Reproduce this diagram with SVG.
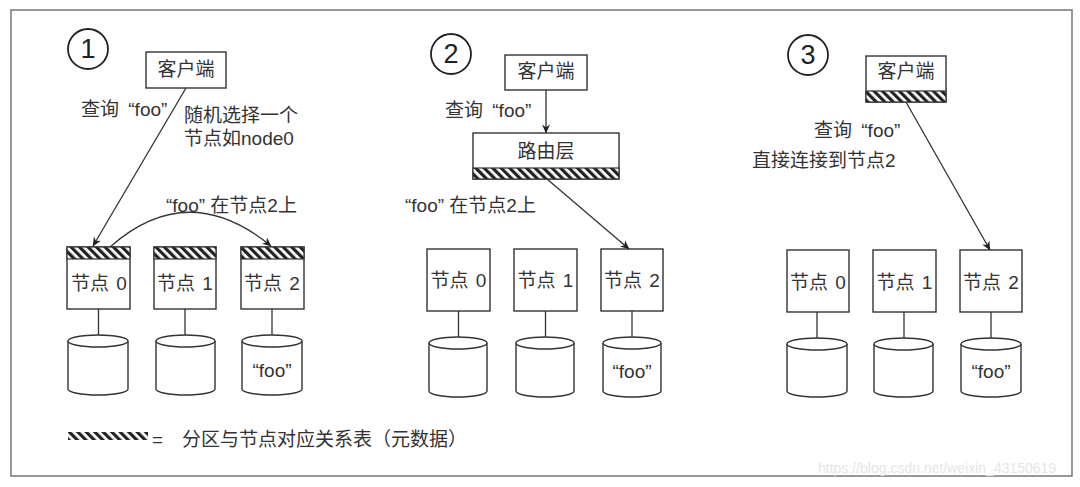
<svg xmlns="http://www.w3.org/2000/svg" width="1080" height="487" viewBox="0 0 1080 487">
<defs>
  <pattern id="hatch" patternUnits="userSpaceOnUse" width="6" height="6" patternTransform="rotate(-45)">
    <rect x="0" y="0" width="6" height="6" fill="#fff"/>
    <rect x="0" y="0" width="3.2" height="6" fill="#222"/>
  </pattern>
  <marker id="arr" viewBox="0 0 10 10" refX="9.5" refY="5" markerWidth="9" markerHeight="9" orient="auto" markerUnits="userSpaceOnUse">
    <path d="M0,0.5 L10,5 L0,9.5 L3,5 Z" fill="#222"/>
  </marker>
  <style>
    .t { font-family: "Liberation Sans", "Noto Sans CJK SC", sans-serif; fill: #333; font-size: 19px; }
    .c { text-anchor: middle; }
    .box { fill: #fff; stroke: #333; stroke-width: 1.4; }
    .hb { fill: url(#hatch); stroke: #333; stroke-width: 1.2; }
    .ln { fill: none; stroke: #333; stroke-width: 1.3; }
    .cyl { fill: #fff; stroke: #333; stroke-width: 1.4; }
    .num { font-family: "Liberation Sans", sans-serif; font-size: 27px; fill: #222; text-anchor: middle; }
    .wm { font-family: "Liberation Sans", sans-serif; font-size: 14px; fill: #e6e6e6; }
  </style>
</defs>
<rect x="0" y="0" width="1080" height="487" fill="#fff"/>
<rect x="11" y="10" width="1061" height="466" fill="none" stroke="#777" stroke-width="1.5"/>

<!-- Panel 1 -->
<g id="p1-step">
  <circle cx="88" cy="49" r="20" fill="none" stroke="#222" stroke-width="1.8"/>
  <text class="num" x="88" y="58">1</text>
</g>
<g id="p1-client">
  <rect class="box" x="146" y="52" width="80" height="36"/>
  <text class="t c" x="186" y="76" font-size="17">客户端</text>
</g>
<g id="p1-labels">
  <text class="t" x="81" y="116">查询 <tspan dx="4">“foo”</tspan></text>
  <text class="t" x="184" y="122" font-size="20">随机选择一个</text>
  <text class="t" x="184" y="145" font-size="20">节点如node0</text>
  <text class="t" x="166" y="212">“foo” 在节点2上</text>
</g>
<g id="p1-node0">
  <rect class="box" x="67" y="247" width="63" height="62"/>
  <rect class="hb" x="67" y="247" width="63" height="12"/>
  <text class="t c" x="99" y="290">节点 <tspan dx="2">0</tspan></text>
  <path class="cyl" d="M68,341 L68,389 A30,6 0 0 0 128,389 L128,341"/>
  <ellipse class="cyl" cx="98" cy="341" rx="30" ry="6"/>
</g>
<g id="p1-node1">
  <rect class="box" x="154" y="247" width="62" height="62"/>
  <rect class="hb" x="154" y="247" width="62" height="12"/>
  <text class="t c" x="185" y="290">节点 <tspan dx="2">1</tspan></text>
  <path class="cyl" d="M156,341 L156,389 A29.5,6 0 0 0 215,389 L215,341"/>
  <ellipse class="cyl" cx="185.5" cy="341" rx="29.5" ry="6"/>
</g>
<g id="p1-node2">
  <rect class="box" x="241" y="247" width="63" height="62"/>
  <rect class="hb" x="241" y="247" width="63" height="12"/>
  <text class="t c" x="272" y="290">节点 <tspan dx="2">2</tspan></text>
  <path class="cyl" d="M242,341 L242,389 A30,6 0 0 0 302,389 L302,341"/>
  <ellipse class="cyl" cx="272" cy="341" rx="30" ry="6"/>
  <text class="t c" x="272" y="377">“foo”</text>
</g>

<!-- Panel 2 -->
<g id="p2-step">
  <circle cx="451" cy="54" r="20" fill="none" stroke="#222" stroke-width="1.8"/>
  <text class="num" x="451" y="63">2</text>
</g>
<g id="p2-client">
  <rect class="box" x="505" y="55" width="82" height="35"/>
  <text class="t c" x="546" y="78" font-size="17">客户端</text>
</g>
<g id="p2-router">
  <rect class="box" x="473" y="133" width="146" height="46"/>
  <rect class="hb" x="473" y="168" width="146" height="11"/>
  <text class="t c" x="546" y="158" font-size="17">路由层</text>
</g>
<g id="p2-labels">
  <text class="t" x="445" y="117">查询 <tspan dx="4">“foo”</tspan></text>
  <text class="t" x="405" y="212">“foo” 在节点2上</text>
</g>
<g id="p2-node0">
  <rect class="box" x="427" y="249" width="63" height="62"/>
  <text class="t c" x="458.5" y="287">节点 <tspan dx="2">0</tspan></text>
  <path class="cyl" d="M429,343 L429,391 A29,6 0 0 0 487,391 L487,343"/>
  <ellipse class="cyl" cx="458" cy="343" rx="29" ry="6"/>
</g>
<g id="p2-node1">
  <rect class="box" x="514" y="249" width="63" height="62"/>
  <text class="t c" x="545.5" y="287">节点 <tspan dx="2">1</tspan></text>
  <path class="cyl" d="M516,343 L516,391 A29,6 0 0 0 574,391 L574,343"/>
  <ellipse class="cyl" cx="545" cy="343" rx="29" ry="6"/>
</g>
<g id="p2-node2">
  <rect class="box" x="601" y="249" width="62" height="62"/>
  <text class="t c" x="632" y="287">节点 <tspan dx="2">2</tspan></text>
  <path class="cyl" d="M603,343 L603,391 A29,6 0 0 0 661,391 L661,343"/>
  <ellipse class="cyl" cx="632" cy="343" rx="29" ry="6"/>
  <text class="t c" x="632" y="378">“foo”</text>
</g>

<!-- Panel 3 -->
<g id="p3-step">
  <circle cx="808" cy="55" r="20" fill="none" stroke="#222" stroke-width="1.8"/>
  <text class="num" x="808" y="64">3</text>
</g>
<g id="p3-client">
  <rect class="box" x="866" y="56" width="80" height="46"/>
  <rect class="hb" x="866" y="91" width="80" height="11"/>
  <text class="t c" x="906" y="78" font-size="17">客户端</text>
</g>
<g id="p3-labels">
  <text class="t" x="814" y="137">查询 <tspan dx="4">“foo”</tspan></text>
  <text class="t" x="752" y="167" font-size="20">直接连接到节点2</text>
</g>
<g id="p3-node0">
  <rect class="box" x="787" y="250" width="62" height="62"/>
  <text class="t c" x="818" y="289">节点 <tspan dx="2">0</tspan></text>
  <path class="cyl" d="M787,344 L787,391 A30,6 0 0 0 847,391 L847,344"/>
  <ellipse class="cyl" cx="817" cy="344" rx="30" ry="6"/>
</g>
<g id="p3-node1">
  <rect class="box" x="873" y="250" width="63" height="62"/>
  <text class="t c" x="904.5" y="289">节点 <tspan dx="2">1</tspan></text>
  <path class="cyl" d="M874,344 L874,391 A29.5,6 0 0 0 933,391 L933,344"/>
  <ellipse class="cyl" cx="903.5" cy="344" rx="29.5" ry="6"/>
</g>
<g id="p3-node2">
  <rect class="box" x="960" y="250" width="62" height="62"/>
  <text class="t c" x="991" y="289">节点 <tspan dx="2">2</tspan></text>
  <path class="cyl" d="M961,344 L961,391 A30,6 0 0 0 1021,391 L1021,344"/>
  <ellipse class="cyl" cx="991" cy="344" rx="30" ry="6"/>
  <text class="t c" x="991" y="378">“foo”</text>
</g>

<!-- Connectors -->
<g id="connectors">
  <line class="ln" x1="186" y1="88" x2="93" y2="246" marker-end="url(#arr)"/>
  <path class="ln" d="M110,247 Q188,178 271,246" marker-end="url(#arr)"/>
  <line class="ln" x1="98.5" y1="309" x2="98.5" y2="335"/>
  <line class="ln" x1="185" y1="309" x2="185" y2="335"/>
  <line class="ln" x1="272" y1="309" x2="272" y2="335"/>

  <line class="ln" x1="546" y1="90" x2="546" y2="133" marker-end="url(#arr)"/>
  <line class="ln" x1="547" y1="179" x2="629" y2="249" marker-end="url(#arr)"/>
  <line class="ln" x1="458.5" y1="311" x2="458.5" y2="337"/>
  <line class="ln" x1="545.5" y1="311" x2="545.5" y2="337"/>
  <line class="ln" x1="632" y1="311" x2="632" y2="337"/>

  <line class="ln" x1="906" y1="102" x2="990" y2="250" marker-end="url(#arr)"/>
  <line class="ln" x1="817" y1="312" x2="817" y2="338"/>
  <line class="ln" x1="904" y1="312" x2="904" y2="338"/>
  <line class="ln" x1="991" y1="312" x2="991" y2="338"/>
</g>

<!-- Legend -->
<g id="legend">
  <rect x="68" y="432" width="80" height="8" fill="url(#hatch)"/>
  <text class="t" x="152" y="446" font-size="21">=</text>
  <text class="t" x="182" y="446" font-size="19.5">分区与节点对应关系表（元数据）</text>
</g>
<text class="wm" x="818" y="473">https://blog.csdn.net/weixin_43150619</text>
</svg>
